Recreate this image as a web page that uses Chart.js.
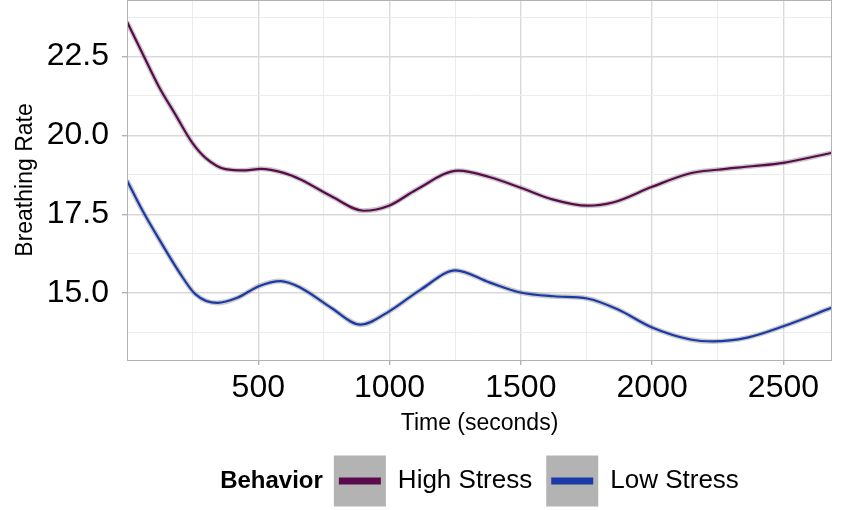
<!DOCTYPE html>
<html>
<head>
<meta charset="utf-8">
<script src="https://cdn.jsdelivr.net/npm/chart.js@4.4.1/dist/chart.umd.min.js"></script>
<style>
  html, body { margin: 0; padding: 0; background: #fff; }
  #wrap { width: 850px; height: 510px; position: relative; }
</style>
</head>
<body>
<div id="wrap"><canvas id="chart"></canvas></div>
<script>
// smoothed breathing rate
const timeHigh = [0, 60, 121, 185, 249, 300, 375, 451, 509, 597, 661, 780, 901, 1000, 1100, 1262, 1380, 1499, 1620, 1753, 1850, 2000, 2146, 2249, 2380, 2500, 2685];
const rateHigh = [23.6, 22.58, 21.55, 20.65, 19.76, 19.28, 18.93, 18.89, 18.94, 18.81, 18.6, 18.06, 17.61, 17.78, 18.27, 18.88, 18.68, 18.34, 17.97, 17.77, 17.87, 18.37, 18.8, 18.91, 19.02, 19.13, 19.45];

const timeLow = [0, 60, 130, 200, 260, 344, 420, 502, 585, 661, 780, 889, 1000, 1120, 1251, 1380, 1499, 1625, 1753, 1870, 2000, 2146, 2233, 2362, 2500, 2685];
const rateLow = [18.57, 17.6, 16.6, 15.65, 14.97, 14.69, 14.85, 15.22, 15.38, 15.17, 14.52, 14.0, 14.43, 15.12, 15.72, 15.34, 15.02, 14.9, 14.83, 14.48, 13.91, 13.53, 13.47, 13.59, 13.95, 14.54];

const seriesNames = ["High Stress", "Low Stress"];
const seriesColors = ["#5a0b4d", "#1a3aa8"];
const legendTitle = "Behavior";

const xTickValues = [250, 500, 750, 1000, 1250, 1500, 1750, 2000, 2250, 2500];
const yTickValues = [13.75, 15, 16.25, 17.5, 18.75, 20, 21.25, 22.5, 23.75];

const FONT = "'Liberation Sans', Arial, Helvetica, sans-serif";

function pts(xs, ys) { return xs.map((x, i) => ({ x: x, y: ys[i] })); }

function lineSet(label, data, color) {
  return { label, data, borderColor: color, borderWidth: 2.2, pointRadius: 0,
           cubicInterpolationMode: "monotone", fill: false, order: 1 };
}
function ribbonSet(data) {
  return { label: "_ribbon", data, borderColor: "rgba(120,120,120,0.4)", borderWidth: 5,
           pointRadius: 0, cubicInterpolationMode: "monotone", fill: false, order: 2 };
}

// panel border + ggplot-like legend at the bottom
const panelPlugin = {
  id: "panel",
  afterDatasetsDraw(chart) {
    const { ctx, chartArea: a } = chart;
    ctx.save();
    ctx.strokeStyle = "#b3b3b3";
    ctx.lineWidth = 1;
    ctx.strokeRect(a.left + 0.5, a.top + 0.5, a.right - a.left - 1, a.bottom - a.top);
    ctx.restore();
  },
  afterDraw(chart) {
    const { ctx, chartArea: a } = chart;
    const cy = 481;
    const keyW = 52, keyH = 51;
    ctx.save();
    ctx.textBaseline = "middle";
    ctx.font = "bold 24px " + FONT;
    const titleW = ctx.measureText(legendTitle).width;
    ctx.font = "26px " + FONT;
    const labW = seriesNames.map(n => ctx.measureText(n).width);
    const total = titleW + 11 + labW.reduce((s, w) => s + keyW + 12 + w, 0) + 14;
    let x = (a.left + a.right) / 2 - total / 2;

    ctx.fillStyle = "#000";
    ctx.font = "bold 24px " + FONT;
    ctx.fillText(legendTitle, x, cy);
    x += titleW + 11;

    ctx.font = "26px " + FONT;
    seriesNames.forEach((name, i) => {
      ctx.fillStyle = "#b3b3b3";
      ctx.fillRect(x, cy - keyH / 2, keyW, keyH);
      ctx.fillStyle = seriesColors[i];
      ctx.fillRect(x + 5, cy - 3.5, keyW - 10, 7);
      x += keyW + 12;
      ctx.fillStyle = "#000";
      ctx.fillText(name, x, cy);
      x += labW[i] + 14;
    });
    ctx.restore();
  }
};

const majorX = v => v % 500 === 0;
const majorY = v => Math.abs(v / 2.5 - Math.round(v / 2.5)) < 1e-6;

new Chart(document.getElementById("chart"), {
  type: "line",
  data: {
    datasets: [
      lineSet(seriesNames[0], pts(timeHigh, rateHigh), seriesColors[0]),
      lineSet(seriesNames[1], pts(timeLow, rateLow), seriesColors[1]),
      ribbonSet(pts(timeHigh, rateHigh)),
      ribbonSet(pts(timeLow, rateLow)),
    ],
  },
  options: {
    responsive: true,
    maintainAspectRatio: false,
    animation: false,
    layout: { padding: { top: 0, right: 18, bottom: 65, left: 0 } },
    plugins: { legend: { display: false }, tooltip: { enabled: false } },
    scales: {
      x: {
        type: "linear",
        min: 0,
        max: 2685,
        afterBuildTicks: s => { s.ticks = xTickValues.map(v => ({ value: v })); },
        afterFit: s => { s.height = 85; s.paddingLeft = 0; s.paddingRight = 0; },
        border: { display: false },
        grid: {
          color: c => majorX(c.tick.value) ? "#d9d9d9" : "#ececec",
          lineWidth: c => majorX(c.tick.value) ? 1.4 : 1,
          tickColor: c => majorX(c.tick.value) ? "#b3b3b3" : "rgba(0,0,0,0)",
          tickLength: 5,
        },
        ticks: {
          autoSkip: false,
          maxRotation: 0,
          padding: 4,
          color: "#000",
          font: { family: FONT, size: 32 },
          callback: v => majorX(v) ? String(v) : "",
        },
        title: {
          display: true,
          text: "Time (seconds)",
          color: "#000",
          font: { family: FONT, size: 23 },
          padding: { top: 0, bottom: 8 },
        },
      },
      y: {
        min: 12.88,
        max: 24.29,
        afterBuildTicks: s => { s.ticks = yTickValues.map(v => ({ value: v })); },
        afterFit: s => { s.width = 127; s.paddingTop = 0; s.paddingBottom = 0; },
        border: { display: false },
        grid: {
          color: c => majorY(c.tick.value) ? "#d9d9d9" : "#ececec",
          lineWidth: c => majorY(c.tick.value) ? 1.4 : 1,
          tickColor: c => majorY(c.tick.value) ? "#b3b3b3" : "rgba(0,0,0,0)",
          tickLength: 5,
        },
        ticks: {
          autoSkip: false,
          padding: 13,
          color: "#000",
          font: { family: FONT, size: 32 },
          callback: v => majorY(v) ? v.toFixed(1) : "",
        },
        title: {
          display: true,
          text: "Breathing Rate",
          color: "#000",
          font: { family: FONT, size: 23 },
          padding: { top: 12, bottom: 0 },
        },
      },
    },
  },
  plugins: [panelPlugin],
});
</script>
</body>
</html>
